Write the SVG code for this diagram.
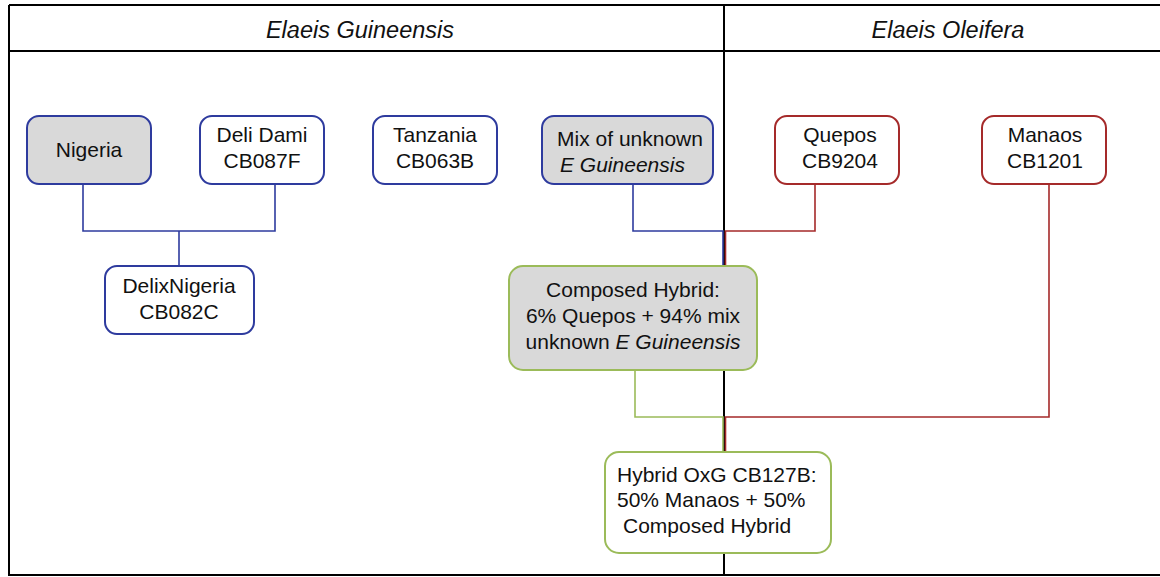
<svg xmlns="http://www.w3.org/2000/svg" width="1160" height="577" viewBox="0 0 1160 577">
<style>
text{font-family:"Liberation Sans",Arial,sans-serif;font-size:21px;fill:#111;}
.hdr{font-size:23.5px;font-style:italic;text-anchor:middle;}
.c{text-anchor:middle;}
.i{font-style:italic;}
.frame{stroke:#000;stroke-width:2;fill:none;}
.box{stroke-width:2;}
.blue{stroke:#2e3b9e;}
.red{stroke:#a52a2a;}
.green{stroke:#9bbb59;}
.grey{fill:#d9d9d9;}
.white{fill:#fff;}
.cn{fill:none;stroke-width:1.6;}
</style>
<rect width="1160" height="577" fill="#fff"/>
<g id="frame">
<path class="frame" d="M9 5 H1160 M9 51 H1160 M9 5 V575 H1160 M724 5 V575"/>
<text class="hdr" x="360" y="38">Elaeis Guineensis</text>
<text class="hdr" x="948" y="38">Elaeis Oleifera</text>
</g>
<g id="connectors">
<path class="cn blue" d="M83 184 V231 H275 V184 M179 231 V266"/>
<path class="cn blue" d="M633 184 V231 H723 V266"/>
<path class="cn red" d="M815 184 V231 H725.5 V266"/>
<path class="cn green" d="M635 370 V417 H723 V452"/>
<path class="cn red" d="M1049 184 V417 H725.5 V452"/>
</g>
<g id="nigeria">
<rect class="box blue grey" x="27" y="116" width="124" height="68" rx="12"/>
<text class="c" x="89" y="157">Nigeria</text>
</g>
<g id="deli-dami">
<rect class="box blue white" x="200" y="116" width="124" height="68" rx="12"/>
<text class="c" x="262" y="142">Deli Dami</text>
<text class="c" x="262" y="168">CB087F</text>
</g>
<g id="tanzania">
<rect class="box blue white" x="373" y="116" width="124" height="68" rx="12"/>
<text class="c" x="435" y="142">Tanzania</text>
<text class="c" x="435" y="168">CB063B</text>
</g>
<g id="mix-unknown">
<rect class="box blue grey" x="542" y="116" width="171" height="68" rx="12"/>
<text class="c" x="630" y="146">Mix of unknown</text>
<text class="i" x="560" y="172">E Guineensis</text>
</g>
<g id="quepos">
<rect class="box red white" x="775" y="116" width="124" height="68" rx="12"/>
<text class="c" x="840" y="142">Quepos</text>
<text class="c" x="840" y="168">CB9204</text>
</g>
<g id="manaos">
<rect class="box red white" x="982" y="116" width="124" height="68" rx="12"/>
<text class="c" x="1045" y="142">Manaos</text>
<text class="c" x="1045" y="168">CB1201</text>
</g>
<g id="delixnigeria">
<rect class="box blue white" x="105" y="266" width="149" height="68" rx="12"/>
<text class="c" x="179" y="293">DelixNigeria</text>
<text class="c" x="179" y="319">CB082C</text>
</g>
<g id="composed-hybrid">
<rect class="box green grey" x="509" y="266" width="248" height="104" rx="14"/>
<text class="c" x="633" y="297">Composed Hybrid:</text>
<text class="c" x="633" y="323">6% Quepos + 94% mix</text>
<text class="c" x="633" y="349">unknown <tspan class="i">E Guineensis</tspan></text>
</g>
<g id="hybrid-oxg">
<rect class="box green white" x="605" y="452" width="226" height="101" rx="14"/>
<text x="617" y="482">Hybrid OxG CB127B:</text>
<text x="617" y="507">50% Manaos + 50%</text>
<text x="623" y="533">Composed Hybrid</text>
</g>
</svg>
